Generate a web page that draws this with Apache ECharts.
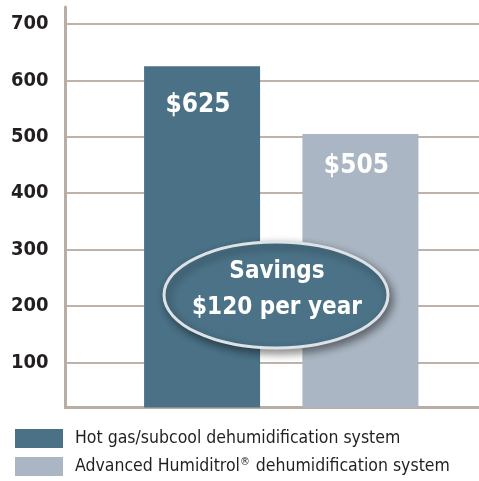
<!DOCTYPE html>
<html>
<head>
<meta charset="utf-8">
<script src="https://cdn.jsdelivr.net/npm/echarts@6/dist/echarts.min.js"></script>
<style>
  html, body { margin: 0; padding: 0; background: #fff; }
  #chart { width: 479px; height: 481px; }
</style>
</head>
<body>
<div id="chart"></div>
<script>
var categories = ['Annual operating cost'];
var systems = ['Hot gas/subcool dehumidification system', 'Advanced Humiditrol® dehumidification system'];
var costs = [625, 505];
var yTicks = [100, 200, 300, 400, 500, 600, 700];

var colors = ['#4a7186', '#aab6c3'];
var font = '"DejaVu Sans Condensed", "Liberation Sans Narrow", sans-serif';
var savings = costs[0] - costs[1];

var chart = echarts.init(document.getElementById('chart'));

var option = {
	backgroundColor: '#fff',
	animation: false,
	color: colors,
	grid: {
		left: 65.5,
		width: 431.5,
		top: 7,
		bottom: 73.5,
		outerBoundsMode: 'none'
	},
	legend: {
		orient: 'vertical',
		left: 15,
		top: 429,
		padding: 0,
		itemWidth: 48,
		itemHeight: 19,
		itemGap: 9,
		icon: 'rect',
		data: systems,
		formatter: function (name) {
			return name.replace('®', '{r|®}');
		},
		textStyle: {
			fontFamily: font,
			fontSize: 17.5,
			color: '#231f20',
			padding: [0, 0, 0, 7],
			rich: {
				r: { fontFamily: font, fontSize: 11, color: '#231f20', verticalAlign: 'top', padding: [0, 1, 8, 0] }
			}
		}
	},
	xAxis: {
		type: 'category',
		data: categories,
		axisLabel: { show: false },
		axisTick: { show: false },
		axisLine: { lineStyle: { color: '#b8aea6', width: 3 } }
	},
	yAxis: {
		type: 'value',
		min: 20,
		max: 730,
		axisLine: { show: true, lineStyle: { color: '#b8aea6', width: 3 } },
		axisTick: { show: false, customValues: yTicks },
		axisLabel: {
			customValues: yTicks,
			margin: 17,
			fontFamily: font,
			fontWeight: 'bold',
			fontSize: 20,
			color: '#231f20'
		},
		splitLine: {
			show: true,
			customValues: yTicks,
			lineStyle: { color: '#bdb3aa', width: 2 }
		}
	},
	series: [
		{
			name: systems[0],
			type: 'bar',
			barWidth: 116,
			barGap: '36.5%',
			data: [{ value: costs[0], label: { position: ['50%', 39] } }],
			label: {
				show: true,
				formatter: '${c}',
				align: 'center',
				verticalAlign: 'middle',
				offset: [-4, 0],
				fontFamily: font,
				fontWeight: 'bold',
				fontSize: 26,
				color: '#fff'
			}
		},
		{
			name: systems[1],
			type: 'bar',
			barWidth: 116,
			data: [{ value: costs[1], label: { position: ['50%', 32] } }],
			label: {
				show: true,
				formatter: '${c}',
				align: 'center',
				verticalAlign: 'middle',
				offset: [-4, 0],
				fontFamily: font,
				fontWeight: 'bold',
				fontSize: 26,
				color: '#fff'
			}
		}
	],
	graphic: [
		{
			type: 'ellipse',
			z: 100,
			shape: { cx: 276, cy: 295, rx: 112, ry: 53 },
			style: {
				fill: '#4b7287',
				stroke: '#dde2e7',
				lineWidth: 3,
				shadowBlur: 8,
				shadowColor: 'rgba(0,0,0,0.45)',
				shadowOffsetX: 3,
				shadowOffsetY: 4
			}
		},
		{
			type: 'text',
			z: 101,
			x: 277,
			y: 290,
			style: {
				text: 'Savings\n$' + savings + ' per year',
				fill: '#fff',
				fontFamily: font,
				fontWeight: 'bold',
				fontSize: 24,
				lineHeight: 36,
				align: 'center',
				verticalAlign: 'middle'
			}
		}
	]
};

chart.setOption(option);
</script>
</body>
</html>
